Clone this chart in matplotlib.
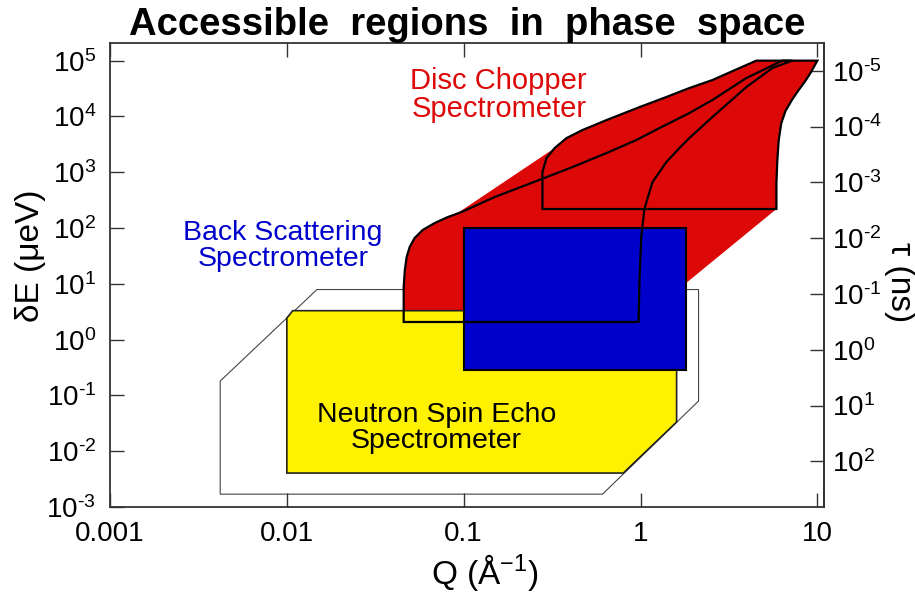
import numpy as np
import matplotlib
matplotlib.use("Agg")
import matplotlib.pyplot as plt
from matplotlib.ticker import NullLocator, FixedLocator

plt.rcParams['font.family'] = ['Liberation Sans', 'DejaVu Sans']
plt.rcParams['mathtext.fontset'] = 'custom'
plt.rcParams['mathtext.rm'] = 'Liberation Sans'
plt.rcParams['mathtext.it'] = 'Liberation Sans:italic'
plt.rcParams['mathtext.bf'] = 'Liberation Sans:bold'

HBAR = 0.6582  # micro-eV * ns

# ---------------- data ----------------
# Neutron spin echo: outer (thin line) envelope
nse_env_q = [0.0042, 0.0042, 0.0148, 2.13, 2.13, 0.61]
nse_env_e = [0.0017, 0.181, 7.9, 7.9, 0.0794, 0.0017]
# Neutron spin echo: yellow region
nse_q = [0.01, 0.01, 0.0108, 1.60, 1.60, 0.80]
nse_e = [0.00406, 2.43, 3.3, 3.3, 0.0333, 0.00406]
# Back scattering: blue box
bs_q = [0.1, 1.8]
bs_e = [0.28, 100]

# Disc chopper setting A (low incident energy)
a_left_q = [0.0458, 0.0458, 0.0465, 0.0476, 0.0495, 0.0528, 0.0586, 0.0686, 0.0813,
            0.0975, 0.150, 0.276, 0.413, 0.643, 0.948, 1.28, 1.89, 2.55, 3.97, 6.10, 6.34]
a_left_e = [2.07, 8.77, 17.7, 30.2, 45.6, 66.2, 92.0, 123, 157,
            194, 360, 755, 1240, 2210, 3780, 6190, 11500, 19700, 48800, 94400, 1e5]
a_right_q = [7.22, 5.57, 3.97, 2.55, 1.89, 1.66, 1.40, 1.17, 1.08, 1.05, 1.01, 0.987, 0.975]
a_right_e = [1e5, 73700, 33700, 9760, 4100, 2710, 1520, 668, 292, 210, 69, 11.7, 2.07]

# Disc chopper setting B (high incident energy)
b_left_q = [0.279, 0.279, 0.294, 0.327, 0.382, 0.470, 0.643, 0.987, 1.40, 1.89, 2.55, 3.63, 4.52]
b_left_e = [219, 1008, 1800, 2710, 4100, 5710, 8620, 14700, 22300, 32300, 44900, 73700, 1e5]
b_right_q = [10.0, 9.2, 8.5, 7.8, 7.2, 6.6, 6.25, 6.05, 5.94, 5.87, 5.87]
b_right_e = [1e5, 62000, 42000, 29000, 20000, 12500, 7500, 3800, 1650, 640, 219]

# straight upper-left edge of the full chopper range
edge_q = [0.089, 0.327]
edge_e = [171, 2710]

xticks = [0.001, 0.01, 0.1, 1, 10]
xticklabels = ['0.001', '0.01', '0.1', '1', '10']
yticks = [1e-3, 1e-2, 1e-1, 1e0, 1e1, 1e2, 1e3, 1e4, 1e5]
yticklabels = ['$10^{\u20103}$', '$10^{\u20102}$', '$10^{\u20101}$', '$10^{0}$', '$10^{1}$',
               '$10^{2}$', '$10^{3}$', '$10^{4}$', '$10^{5}$']
tauticks = [1e-5, 1e-4, 1e-3, 1e-2, 1e-1, 1e0, 1e1, 1e2]
tauticklabels = ['$10^{\u20105}$', '$10^{\u20104}$', '$10^{\u20103}$', '$10^{\u20102}$',
                 '$10^{\u20101}$', '$10^{0}$', '$10^{1}$', '$10^{2}$']

RED = '#dd0808'
BLUE = '#0000cc'
YELLOW = '#fff200'

W, H = 915, 595

# ---------------- figure ----------------
fig = plt.figure(figsize=(9.15, 5.95), dpi=100)
ax = fig.add_axes([0.1202, 0.1479, 0.7803, 0.7798])
ax.set_xscale('log')
ax.set_yscale('log')
ax.set_xlim(0.001, 10.9)
ax.set_ylim(1e-3, 2.07e5)

# outer NSE envelope
ax.fill(nse_env_q, nse_env_e, facecolor='none', edgecolor='#444444', lw=0.8, zorder=1)

# red chopper envelope
red_q = a_left_q[:9] + edge_q + b_left_q[4:] + b_right_q + [a_right_q[-1]]
red_e = a_left_e[:9] + edge_e + b_left_e[4:] + b_right_e + [a_right_e[-1]]
ax.fill(red_q, red_e, facecolor=RED, edgecolor='none', zorder=2)

# yellow NSE
ax.fill(nse_q, nse_e, facecolor=YELLOW, edgecolor='#222222', lw=1.2, zorder=3)

# blue back scattering
ax.fill([bs_q[0], bs_q[1], bs_q[1], bs_q[0]], [bs_e[0], bs_e[0], bs_e[1], bs_e[1]],
        facecolor=BLUE, edgecolor='black', lw=1.5, zorder=4)

# chopper outlines
a_q = a_left_q + a_right_q
a_e = a_left_e + a_right_e
ax.fill(a_q, a_e, facecolor='none', edgecolor='black', lw=1.6, zorder=5)
b_q = b_left_q + b_right_q
b_e = b_left_e + b_right_e
ax.fill(b_q, b_e, facecolor='none', edgecolor='black', lw=1.6, zorder=5)

# labels in plot
ax.text(0.158, 24200, 'Disc Chopper\nSpectrometer', color=RED, fontsize=21,
        ha='center', va='center', linespacing=1.0, zorder=6)
ax.text(0.00948, 47.5, 'Back Scattering\nSpectrometer', color=BLUE, fontsize=20.5,
        ha='center', va='center', linespacing=1.0, zorder=6)
ax.text(0.0703, 0.026, 'Neutron Spin Echo\nSpectrometer', color='black', fontsize=20.5,
        ha='center', va='center', linespacing=1.0, zorder=6)

# axes styling
ax.xaxis.set_major_locator(FixedLocator(xticks))
ax.xaxis.set_minor_locator(NullLocator())
ax.set_xticklabels(xticklabels)
ax.yaxis.set_major_locator(FixedLocator(yticks))
ax.yaxis.set_minor_locator(NullLocator())
ax.set_yticklabels(yticklabels)
ax.tick_params(axis='x', which='major', direction='in', length=10, width=1,
               top=True, bottom=True, labelsize=20, pad=10, color='#333333')
ax.tick_params(axis='y', which='major', direction='in', length=10, width=1,
               left=True, right=False, labelsize=20, pad=10, color='#333333')
for s in ax.spines.values():
    s.set_linewidth(1.3)
    s.set_color('#333333')

fig.text(485 / W, 1 - 584 / H, 'Q (Å$^{-1}$)', fontsize=24, ha='center', va='baseline')
fig.text(30 / W, 1 - 256 / H, 'δE (μeV)', fontsize=24, rotation=90, ha='center', va='center')
fig.text(899 / W, 1 - 282 / H, 'τ (ns)', fontsize=24, rotation=-90, ha='center', va='center')
ax.set_title('Accessible  regions  in  phase  space', fontsize=27.5, fontweight='bold', pad=6)

ax2 = ax.secondary_yaxis('right', functions=(lambda e: HBAR / np.asarray(e),
                                              lambda t: HBAR / np.asarray(t)))
ax2.yaxis.set_major_locator(FixedLocator(tauticks))
ax2.yaxis.set_minor_locator(NullLocator())
ax2.set_yticklabels(tauticklabels)
ax2.tick_params(axis='y', which='major', direction='in', length=10, width=1,
                labelsize=20, pad=6, color='#333333')
ax2.spines['right'].set_linewidth(1.3)
ax2.spines['right'].set_color('#333333')

fig.savefig('out.png', dpi=100)
